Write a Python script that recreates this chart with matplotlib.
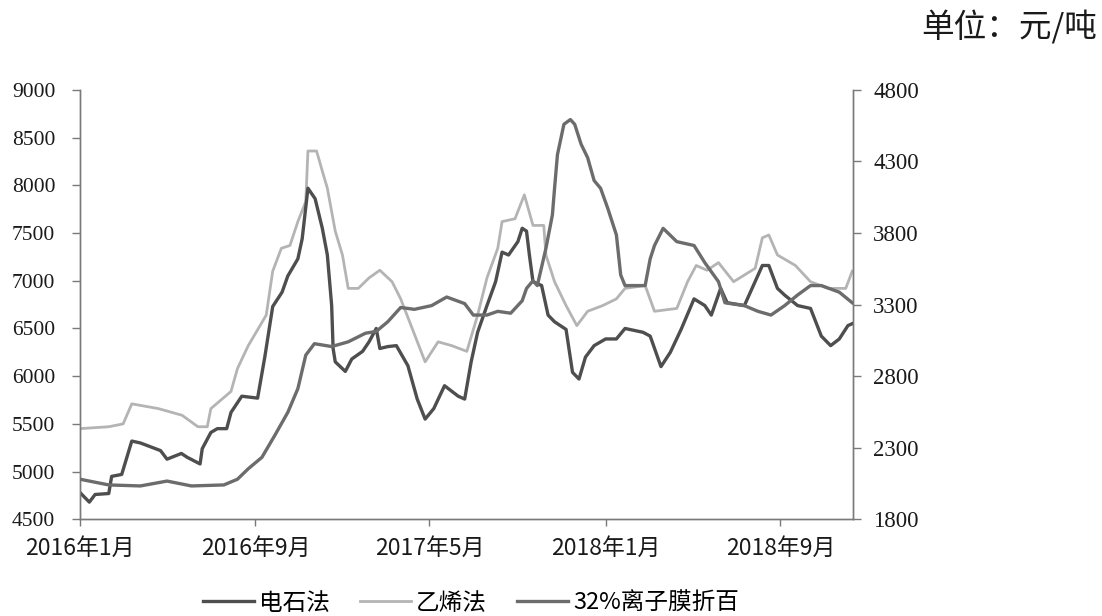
import matplotlib
matplotlib.use("Agg")
import matplotlib.pyplot as plt
import pandas as pd

# ---------------- data ----------------
dates_carbide = ["2016-01-01","2016-01-14","2016-01-22","2016-02-10","2016-02-14","2016-02-28","2016-03-13","2016-03-25",
    "2016-04-22","2016-05-01","2016-05-21","2016-05-29","2016-06-16","2016-06-19","2016-07-01","2016-07-10","2016-07-23",
    "2016-07-29","2016-08-13","2016-09-04","2016-09-14","2016-09-25","2016-10-08","2016-10-16","2016-10-30","2016-11-05",
    "2016-11-13","2016-11-23","2016-12-03","2016-12-10","2016-12-16","2016-12-18","2016-12-21","2017-01-04","2017-01-13",
    "2017-01-28","2017-02-06","2017-02-16","2017-02-21","2017-03-04","2017-03-16","2017-04-01","2017-04-14","2017-04-25",
    "2017-05-07","2017-05-22","2017-06-10","2017-06-19","2017-06-28","2017-07-07","2017-07-20","2017-08-01","2017-08-10",
    "2017-08-19","2017-09-01","2017-09-07","2017-09-13","2017-09-17","2017-09-22","2017-10-04","2017-10-13","2017-10-22",
    "2017-11-07","2017-11-16","2017-11-25","2017-12-04","2017-12-16","2018-01-01","2018-01-16","2018-01-28","2018-02-22",
    "2018-03-04","2018-03-19","2018-04-01","2018-04-16","2018-05-04","2018-05-19","2018-05-28","2018-06-10","2018-06-19",
    "2018-07-13","2018-08-07","2018-08-16","2018-08-28","2018-09-07","2018-09-25","2018-10-13","2018-10-28","2018-11-10",
    "2018-11-22","2018-12-04","2018-12-10"]
carbide = [4780,4680,4760,4770,4950,4970,5320,5300,
    5220,5130,5190,5150,5080,5240,5410,5450,5450,
    5620,5790,5770,6200,6730,6880,7050,7230,7440,
    7970,7860,7550,7270,6740,6290,6150,6050,6180,
    6260,6360,6500,6290,6310,6320,6110,5760,5550,
    5660,5900,5790,5760,6150,6460,6740,6990,7300,
    7270,7410,7550,7520,7270,6990,6950,6640,6570,
    6490,6040,5970,6200,6320,6390,6390,6500,6460,
    6420,6100,6250,6490,6810,6740,6640,6920,6770,
    6740,7160,7160,6920,6850,6740,6710,6420,6320,
    6390,6530,6550]

dates_ethylene = ["2016-01-01","2016-02-10","2016-03-01","2016-03-13","2016-04-19","2016-05-22","2016-06-13","2016-06-26",
    "2016-07-01","2016-07-29","2016-08-07","2016-08-22","2016-09-16","2016-09-25","2016-10-07","2016-10-19","2016-10-30",
    "2016-11-10","2016-11-13","2016-11-25","2016-12-03","2016-12-10","2016-12-21","2016-12-31","2017-01-08","2017-01-22",
    "2017-02-06","2017-02-21","2017-03-10","2017-03-22","2017-04-07","2017-04-25","2017-05-13","2017-06-01","2017-06-22",
    "2017-07-07","2017-07-20","2017-08-04","2017-08-10","2017-08-28","2017-09-10","2017-09-22","2017-10-07","2017-10-10",
    "2017-10-22","2017-11-07","2017-11-22","2017-12-07","2017-12-28","2018-01-16","2018-01-28","2018-02-25","2018-03-10",
    "2018-04-10","2018-04-25","2018-05-07","2018-05-22","2018-06-07","2018-06-28","2018-07-28","2018-08-07","2018-08-16",
    "2018-08-28","2018-09-22","2018-10-13","2018-11-07","2018-12-01","2018-12-10"]
ethylene = [5450,5470,5500,5710,5660,5590,5470,5470,
    5660,5840,6080,6320,6640,7100,7340,7370,7620,
    7830,8360,8360,8150,7970,7520,7270,6920,6920,
    7030,7110,6990,6810,6500,6150,6360,6320,6260,
    6640,7030,7340,7620,7650,7900,7580,7580,7270,
    6990,6740,6530,6680,6740,6810,6920,6950,6680,
    6710,6990,7160,7110,7190,6990,7130,7450,7480,
    7270,7160,6990,6920,6920,7100]

dates_caustic = ["2016-01-01","2016-02-10","2016-03-25","2016-05-01","2016-06-04","2016-07-19","2016-08-07","2016-08-22",
    "2016-09-10","2016-09-28","2016-10-16","2016-10-30","2016-11-10","2016-11-22","2016-12-16","2017-01-08","2017-02-01",
    "2017-02-16","2017-03-04","2017-03-22","2017-04-10","2017-05-04","2017-05-25","2017-06-19","2017-07-01","2017-07-20",
    "2017-08-04","2017-08-22","2017-09-07","2017-09-13","2017-09-22","2017-09-28","2017-10-10","2017-10-19","2017-10-22",
    "2017-10-26","2017-11-04","2017-11-13","2017-11-19","2017-11-28","2017-12-07","2017-12-16","2017-12-25","2018-01-04",
    "2018-01-16","2018-01-22","2018-01-28","2018-02-25","2018-03-04","2018-03-10","2018-03-22","2018-04-10","2018-05-04",
    "2018-05-19","2018-06-07","2018-06-16","2018-07-13","2018-08-01","2018-08-19","2018-09-07","2018-09-25","2018-10-13",
    "2018-10-28","2018-11-22","2018-12-10"]
caustic = [2080,2040,2033,2067,2033,2040,2080,2153,
    2233,2387,2547,2713,2947,3027,3007,3040,3100,
    3113,3180,3280,3267,3293,3353,3307,3227,3227,
    3253,3240,3327,3413,3467,3433,3693,3927,4113,
    4347,4560,4593,4560,4420,4327,4167,4113,3973,
    3787,3507,3433,3433,3620,3713,3833,3740,3713,
    3593,3460,3313,3293,3253,3227,3293,3367,3433,
    3433,3387,3313]

series_names = ["电石法", "乙烯法", "32%离子膜折百"]
x_ticks = ["2016-01-01", "2016-09-01", "2017-05-01", "2018-01-01", "2018-09-01"]
x_tick_labels = ["2016年1月", "2016年9月", "2017年5月", "2018年1月", "2018年9月"]
left_ticks = [4500, 5000, 5500, 6000, 6500, 7000, 7500, 8000, 8500, 9000]
right_ticks = [1800, 2300, 2800, 3300, 3800, 4300, 4800]
unit_text = "单位：元/吨"

# ---------------- plot ----------------
plt.rcParams['font.family'] = ['Noto Sans CJK SC', 'DejaVu Sans']

fig = plt.figure(figsize=(11.02, 6.16), dpi=100)
ax = fig.add_axes([0.0726, 0.157, 0.7014, 0.697])
ax2 = ax.twinx()

c_carbide = "#4e4e4e"
c_ethylene = "#b4b4b4"
c_caustic = "#6c6c6c"

l1, = ax.plot(pd.to_datetime(dates_carbide), carbide, color=c_carbide, lw=2.4, zorder=3, solid_joinstyle='round')
l2, = ax.plot(pd.to_datetime(dates_ethylene), ethylene, color=c_ethylene, lw=2.0, zorder=2, solid_joinstyle='round')
l3, = ax2.plot(pd.to_datetime(dates_caustic), caustic, color=c_caustic, lw=2.4, zorder=3, solid_joinstyle='round')

ax.set_ylim(4500, 9000)
ax2.set_ylim(1800, 4800)
ax.set_xlim(pd.Timestamp("2016-01-01"), pd.Timestamp("2018-12-11"))

ax.set_yticks(left_ticks)
ax2.set_yticks(right_ticks)
ax.set_xticks(pd.to_datetime(x_ticks))
ax.set_xticklabels(x_tick_labels)

serif = ['Liberation Serif', 'DejaVu Serif']
for lab in ax.get_yticklabels():
    lab.set_fontfamily(serif)
    lab.set_fontsize(15.5)
for lab in ax2.get_yticklabels():
    lab.set_fontfamily(serif)
    lab.set_fontsize(16.5)
for lab in ax.get_xticklabels():
    lab.set_fontsize(16.5)
    lab.set_fontweight('medium')

spine_c = "#7a7a7a"
for a in (ax, ax2):
    a.spines['top'].set_visible(False)
    for s in ('left', 'right', 'bottom'):
        a.spines[s].set_color(spine_c)
        a.spines[s].set_linewidth(1.0)
ax.tick_params(axis='y', direction='out', length=5.8, width=1, color=spine_c, pad=12, labelcolor='#1a1a1a')
ax2.tick_params(axis='y', direction='out', length=5.5, width=1, color=spine_c, pad=9, labelcolor='#1a1a1a')
ax.tick_params(axis='x', direction='out', length=5, width=1, color=spine_c, pad=8, labelcolor='#1a1a1a')
ax.patch.set_visible(False)

fig.legend([l1, l2, l3], series_names, loc='center', bbox_to_anchor=(0.4274, 0.021), ncol=3,
           frameon=False, fontsize=17, handlelength=2.15, columnspacing=1.3, handletextpad=0.2)

fig.text(0.996, 0.955, unit_text, ha='right', va='center', fontsize=23.5, color='#1a1a1a', fontweight='light')

fig.savefig("out.png", dpi=100)
